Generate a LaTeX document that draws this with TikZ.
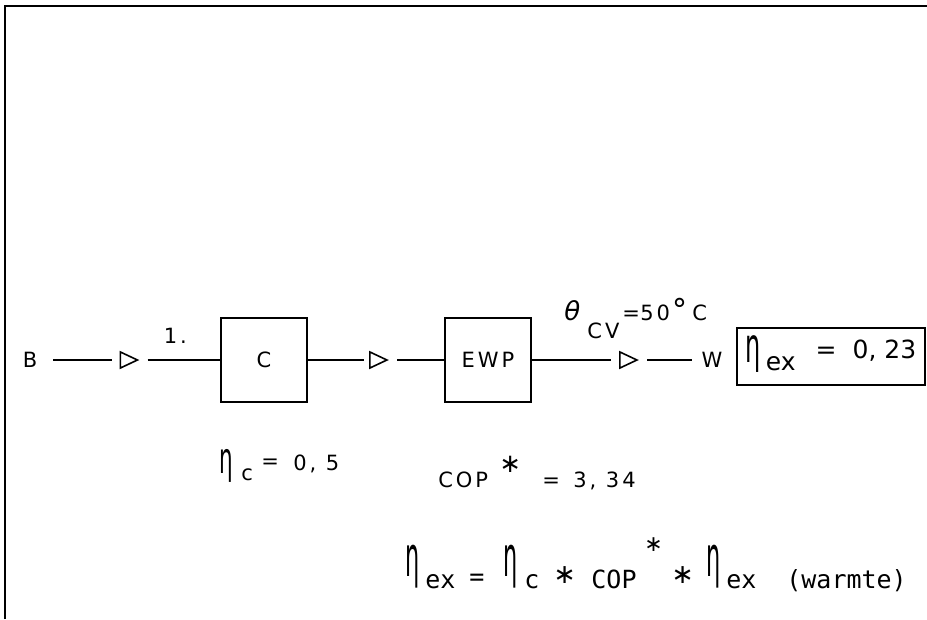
\documentclass[tikz,border=0pt]{standalone}
\usepackage{graphicx}
\usepackage{fontspec}
\setmainfont{DejaVu Sans}
\newfontfamily\plot{DejaVu Sans}[LetterSpace=14]
\newfontfamily\plotmono{DejaVu Sans Mono}
\usetikzlibrary{shapes.geometric}
\newcommand\at[2]{\makebox[0pt][l]{\hspace*{#1}#2}}
\newcommand\bigeta[3]{\raisebox{#2}{\scalebox{#3}[1]{\rmfamily\fontsize{#1}{#1}\selectfont η}}}
\newcommand\mystar[2]{\raisebox{#2}{\rmfamily\fontsize{#1}{#1}\selectfont ∗}}
\begin{document}
\begin{tikzpicture}[x=1pt,y=-1pt,line width=1.8pt,
  txt/.style={inner sep=0pt,font=\plot\fontsize{21}{21}\selectfont},
  blk/.style={draw,minimum width=86pt,minimum height=84pt,inner sep=0pt,font=\plot\fontsize{21}{21}\selectfont},
  tri/.style={draw,line width=1.6pt,isosceles triangle,isosceles triangle stretches,minimum width=16pt,minimum height=17pt,inner sep=0pt},
  lbl/.style={inner sep=0pt,anchor=base west,font=\plot\fontsize{21}{21}\selectfont},
  res/.style={draw,minimum width=188pt,minimum height=57pt,inner sep=0pt,text height=27pt,text depth=0pt,font=\fontsize{25}{25}\selectfont}]
\useasboundingbox (0,0) rectangle (927,619);
% frame
\draw (5,619) -- (5,6) -- (927,6);
% chain
\node[txt] (B) at (30,360) {B};
\node[tri] (t1) at (125.5,360) {};
\node[blk] (C) at (264,360) {C};
\node[tri] (t2) at (375,360) {};
\node[blk] (EWP) at (488,360) {EWP};
\node[tri] (t3) at (625,360) {};
\node[txt] (W) at (712,360) {W};
\node[res] (R) at (831,356.5) {\bigeta{48}{8pt}{0.5}\hspace{5pt}ex\hspace{20pt}\raisebox{12pt}{=\hspace{16pt}0, 23}};
\draw ([xshift=15pt]B.east) -- ([xshift=-8pt]t1.west);
\draw ([xshift=8pt]t1.east) -- (C.west);
\draw (C.east) -- ([xshift=-5pt]t2.west);
\draw ([xshift=8pt]t2.east) -- (EWP.west);
\draw (EWP.east) -- ([xshift=-8pt]t3.west);
\draw ([xshift=8pt]t3.east) -- ([xshift=-9pt]W.west);
% labels
\node[lbl] (one) at (163,343) {1.};
\node[lbl] (theta) at (563,320) {\at{0pt}{\fontsize{26}{26}\selectfont\itshape θ}\at{23pt}{\raisebox{-18pt}{CV}}\at{58pt}{=}\at{76pt}{50}\at{108pt}{\raisebox{0pt}{\rmfamily\fontsize{30}{30}\selectfont °}}\at{128pt}{C}};
\node[lbl] (etac) at (218,470) {\at{0pt}{\bigeta{43}{-3pt}{0.5}}\at{22pt}{\raisebox{-10pt}{c}}\at{42pt}{\raisebox{2pt}{=}}\at{74pt}{0, 5}};
\node[lbl] (cop) at (437,487) {\at{0pt}{COP}\at{61pt}{\mystar{26}{15pt}}\at{104pt}{=}\at{135pt}{3, 34}};
\node[lbl,font=\plotmono\fontsize{25}{25}\selectfont] (eq) at (404,588) {\at{0pt}{\bigeta{56}{12pt}{0.4}}\at{20pt}{ex}\at{64pt}{\raisebox{3pt}{=}}\at{98pt}{\bigeta{56}{12pt}{0.4}}\at{119pt}{c}\at{148pt}{\mystar{27}{5pt}}\at{186pt}{COP}\at{239pt}{\mystar{22}{37pt}}\at{266pt}{\mystar{27}{5pt}}\at{301pt}{\bigeta{56}{12pt}{0.4}}\at{321pt}{ex}\at{381pt}{(warmte)}};
\end{tikzpicture}
\end{document}
